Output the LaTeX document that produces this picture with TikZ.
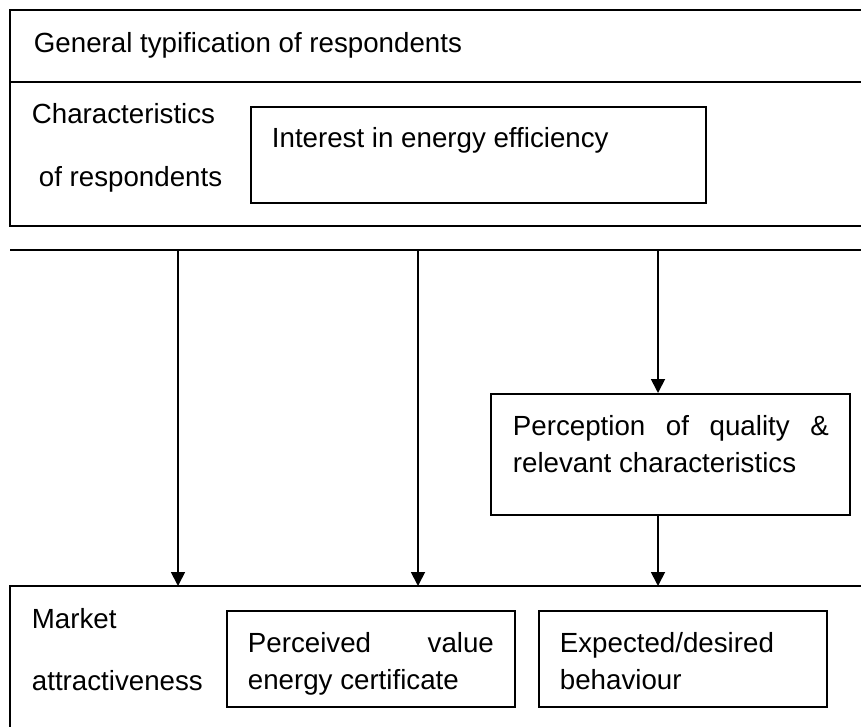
\documentclass[tikz,border=0pt]{standalone}
\usepackage{fontspec}
\setmainfont{Liberation Sans}
\usetikzlibrary{arrows.meta}
\begin{document}
\begin{tikzpicture}[x=1pt,y=-1pt, line width=1.8pt,
  txt/.style={anchor=base west, inner sep=0pt, font=\fontsize{27.7}{33}\selectfont},
  boxnode/.style={draw, line width=1.8pt, inner sep=0pt, anchor=north west},
  arr/.style={-{Triangle[width=14pt,length=14pt]}, line width=1.8pt}]
\useasboundingbox (0,0) rectangle (861,727);
% top block
\coordinate (tl) at (10,10);
\coordinate (tr) at (861,10);
\coordinate (ml) at (10,82);
\coordinate (mr) at (861,82);
\coordinate (bl) at (10,226);
\coordinate (br) at (861,226);
\draw (tr) -- (tl) -- (bl) -- (br);
\draw (ml) -- (mr);
\node[txt] (gen) at (33,53) {General typification of respondents};
\node[txt] (char1) at (31,124) {Characteristics};
\node[txt] (char2) at (38,187) {of respondents};
\node[boxnode, minimum width=455pt, minimum height=96pt] (interest) at (250,106) {};
\node[txt] (interestt) at (271,148) {Interest in energy efficiency};
% horizontal line
\coordinate (hl) at (10,250);
\coordinate (hr) at (861,250);
\draw (hl) -- (hr);
% perception box
\node[boxnode, minimum width=359pt, minimum height=121pt] (perc) at (490,393) {};
\node[txt] (perc1) at (512,435) {\makebox[316pt][s]{Perception of quality \&}};
\node[txt] (perc2) at (512,472) {relevant characteristics};
% bottom block
\coordinate (btr) at (861,586);
\coordinate (btl) at (10,586);
\coordinate (bbl) at (10,727);
\draw (btr) -- (btl) -- (bbl);
\node[txt] (mk1) at (31,628) {Market};
\node[txt] (mk2) at (31,690) {attractiveness};
\node[boxnode, minimum width=288pt, minimum height=96pt] (pv) at (226,610) {};
\node[txt] (pv1) at (247,652) {\makebox[246pt][s]{Perceived value}};
\node[txt] (pv2) at (247,689) {energy certificate};
\node[boxnode, minimum width=288pt, minimum height=96pt] (ex) at (538,610) {};
\node[txt] (ex1) at (559,652) {Expected/desired};
\node[txt] (ex2) at (559,689) {behaviour};
% arrows
\coordinate (a1) at (178,250);
\coordinate (b1) at (178,586);
\coordinate (a2) at (418,250);
\coordinate (b2) at (418,586);
\coordinate (a3) at (658,250);
\coordinate (b3) at (658,586);
\draw[arr] (a1) -- (b1);
\draw[arr] (a2) -- (b2);
\draw[arr] (a3) -- (a3 |- perc.north);
\draw[arr] (a3 |- perc.south) -- (b3);
\end{tikzpicture}
\end{document}
